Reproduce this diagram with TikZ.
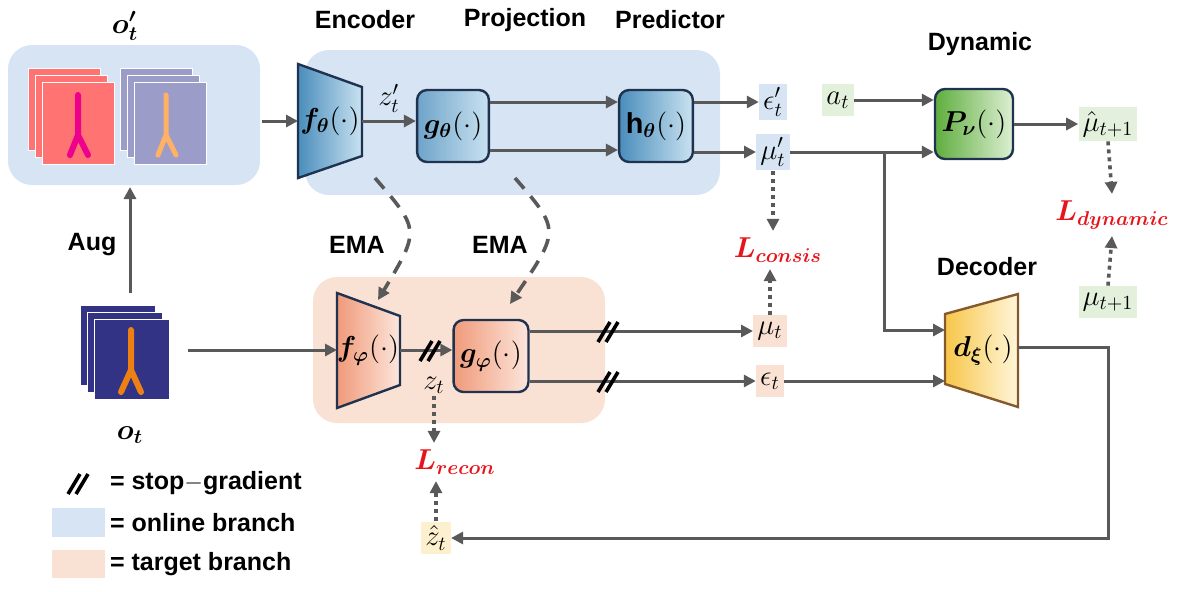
\documentclass[tikz,border=0pt]{standalone}
\usepackage{fontspec}
\setmainfont{Liberation Sans}
\usepackage{amsmath,bm}
\usetikzlibrary{arrows.meta,calc}
\definecolor{onl}{HTML}{D6E4F3}
\definecolor{tgt}{HTML}{F9E1D3}
\definecolor{arr}{HTML}{595959}
\definecolor{bdark}{HTML}{4A8DBC}
\definecolor{blight}{HTML}{C9E2F0}
\definecolor{odark}{HTML}{F09A7A}
\definecolor{olight}{HTML}{FCE6DC}
\definecolor{edge}{HTML}{1F3350}
\definecolor{gdark}{HTML}{5FAE3E}
\definecolor{glight}{HTML}{DDEFD3}
\definecolor{ydark}{HTML}{F7C64A}
\definecolor{ylight}{HTML}{FFF6DA}
\definecolor{lred}{HTML}{E8141B}
\definecolor{gbox}{HTML}{E2F0DC}
\definecolor{ybox}{HTML}{FDF0CF}
\tikzset{
 x=0.5pt,y=-0.5pt,
 a/.style={draw=arr,line width=1.5pt,-{Triangle[length=6pt,width=6pt]}},
 ln/.style={draw=arr,line width=1.5pt},
 dot/.style={draw=arr,line width=1.8pt,dash pattern=on 2pt off 2pt,-{Triangle[length=6pt,width=6pt]}},
 ema/.style={draw=arr,line width=1.8pt,dash pattern=on 7pt off 5pt,-{Triangle[length=6pt,width=6pt]}},
 lab/.style={font=\fontsize{12.5}{14}\selectfont\bfseries},
 var/.style={inner sep=2pt,minimum height=16pt,font=\Large},
 box/.style={draw=edge,line width=1.2pt,rounded corners=5pt,font=\Large},
 loss/.style={text=lred,font=\Large},
 sg/.pic={\draw[black,line width=1.8pt] (-10,11)--(2,-9) (-2,11)--(10,-9);}
}
\begin{document}
\begin{tikzpicture}
\useasboundingbox (0,0) rectangle (1177,591);
% backgrounds
\fill[onl,rounded corners=12pt] (8,45) rectangle (260,185);
\fill[onl,rounded corners=12pt] (305,50) rectangle (720,195);
\fill[tgt,rounded corners=12pt] (313,277) rectangle (605,423);
% online images
\foreach \d in {0,7,14}{\fill[pink!60!red,draw=white,line width=0.5pt] (28+\d,68+\d) rectangle (100+\d,150+\d);}
\draw[magenta,line width=3pt,line cap=round] (78,95)--(78,135) (78,135)--(70,155) (78,135)--(88,155);
\foreach \d in {0,7,14}{\fill[gray!70!blue!60,draw=white,line width=0.5pt] (120+\d,68+\d) rectangle (192+\d,150+\d);}
\draw[orange!60,line width=2.5pt,line cap=round] (166,95)--(166,135) (166,135)--(158,155) (166,135)--(176,155);
\node[font=\Large] (ot2) at (125,26) {$\boldsymbol{o'_t}$};
\coordinate (imgR) at (262,121);
% target image
\foreach \d in {0,7,14}{\fill[blue!40!black!80,draw=white,line width=0.5pt] (80+\d,305+\d) rectangle (155+\d,385+\d);}
\draw[orange!70!brown,line width=3pt,line cap=round] (131,330)--(131,370) (131,370)--(121,392) (131,370)--(141,392);
\node[font=\Large] (ot) at (130,435) {$\boldsymbol{o_t}$};
\coordinate (imgT) at (130,293);
\coordinate (imgB) at (130,187);
\coordinate (imgTR) at (188,350);
\draw[a] (imgT) -- (imgB);
\node[lab] (aug) at (92,245) {Aug};
% headers
\node[lab] (henc) at (365,20) {Encoder};
\node[lab] (hproj) at (525,20) {Projection};
\node[lab] (hpred) at (670,20) {Predictor};
\node[lab] (hdyn) at (980,44) {Dynamic};
\node[lab] (hdec) at (987,267) {Decoder};
\node[lab] (ema1) at (357,245) {EMA};
\node[lab] (ema2) at (500,245) {EMA};
% f_theta
\shade[left color=bdark,right color=blight,draw=edge,line width=1.2pt] (298,64)--(362,87)--(362,156)--(298,178)--cycle;
\node[font=\Large] (ft) at (330,121) {$\boldsymbol{f_\theta}(\cdot)$};
\coordinate (ftR) at (362,121);
\coordinate (ftB) at (375,178);
% g_theta, h_theta
\node[box,left color=bdark!80,right color=blight,minimum width=28pt,minimum height=36pt] (gt) at (453,126) {$\boldsymbol{g_\theta}(\cdot)$};
\node[box,left color=bdark,right color=blight,minimum width=31pt,minimum height=36pt] (ht) at (656,126) {$\mathbf{h}_{\boldsymbol{\theta}}(\cdot)$};
\draw[a] (ftR) -- node[above,font=\Large]{$z'_t$} (gt.west |- ftR);
\draw[a] (gt.east |- 0,102) -- (ht.west |- 0,102);
\draw[a] (gt.east |- 0,150) -- (ht.west |- 0,150);
\node[var,fill=onl] (ept) at (773,102) {$\epsilon'_t$};
\node[var,fill=onl] (mupt) at (773,152) {$\mu'_t$};
\draw[a] (ht.east |- ept) -- (ept.west);
\draw[a] (ht.east |- mupt) -- (mupt.west);
% dynamic
\node[var,fill=gbox] (at) at (838,100) {$a_t$};
\node[box,left color=gdark,right color=glight,minimum width=31pt,minimum height=35pt] (P) at (974,124) {$\boldsymbol{P_\nu}(\cdot)$};
\draw[a] (at.east) -- (P.west |- at);
\draw[a] (mupt.east) -- (P.west |- mupt);
\node[var,fill=gbox] (muh) at (1108,124) {$\hat\mu_{t+1}$};
\draw[a] (P.east) -- (muh.west);
\node[loss] (Ldyn) at (1112,215) {$\boldsymbol{L_{dynamic}}$};
\node[var,fill=gbox] (mut1) at (1108,302) {$\mu_{t+1}$};
\draw[dot] (muh.south) -- (Ldyn.north);
\draw[dot] (mut1.north) -- (Ldyn.south);
% decoder
\shade[left color=ydark,right color=ylight,draw=brown!70!black,line width=1.2pt] (945,314)--(1018,294)--(1018,407)--(945,384)--cycle;
\coordinate (decL) at (945,330);
\coordinate (decL2) at (945,381);
\coordinate (decR) at (1018,347);
\node[font=\Large] (dec) at (983,350) {$\boldsymbol{d_\xi}(\cdot)$};
\coordinate (br) at (884,152);
\draw[a] (br) |- (decL);
% target branch
\shade[left color=odark,right color=olight,draw=edge,line width=1.2pt] (337,293)--(400,316)--(400,385)--(337,408)--cycle;
\node[font=\Large] (fp) at (368,350) {$\boldsymbol{f_\varphi}(\cdot)$};
\coordinate (fpL) at (337,350);
\coordinate (fpR) at (400,350);
\coordinate (fpT) at (378,300);
\draw[a] (imgTR) -- (fpL);
\draw[a] (imgR) -- (298,121);
\node[box,left color=odark,right color=olight,minimum width=29pt,minimum height=36pt] (gp) at (491,356) {$\boldsymbol{g_\varphi}(\cdot)$};
\draw[a] (fpR) -- (gp.west |- fpR);
\pic at (430,350) {sg};
\node[font=\Large,inner sep=1pt] (zt) at (434,385) {$z_t$};
\node[loss] (Lrec) at (455,462) {$\boldsymbol{L_{recon}}$};
\draw[dot] (zt.south) -- (Lrec.north -| zt);
\node[var,fill=tgt] (mut) at (770,331) {$\mu_t$};
\node[var,fill=tgt] (et) at (770,381) {$\epsilon_t$};
\draw[a] (gp.east |- mut) -- (mut.west);
\draw[a] (gp.east |- et) -- (et.west);
\pic at (608,331) {sg};
\pic at (608,381) {sg};
\draw[a] (et.east) -- (decL2);
\node[loss] (Lcon) at (778,250) {$\boldsymbol{L_{consis}}$};
\draw[dot] (mupt.south) -- (Lcon.north -| mupt);
\draw[dot] (mut.north) -- (Lcon.south -| mut);
% recon path
\node[var,fill=ybox] (zh) at (436,538) {$\hat z_t$};
\coordinate (c1) at (1108,347);
\coordinate (c2) at (1108,538);
\draw[a] (decR) -- (c1) -- (c2) -- (zh.east);
\draw[dot] (zh.north) -- (Lrec.south -| zh);
% EMA
\draw[ema] (ftB) .. controls (420,230) .. (fpT);
\coordinate (gtB) at (515,178);
\coordinate (gpT) at (510,304);
\draw[ema] (gtB) .. controls (560,230) .. (gpT);
% legend
\pic at (78,483) {sg};
\node[lab,anchor=west] (l1) at (103,483) {= stop$-$gradient};
\fill[onl] (52,508) rectangle (105,537);
\node[lab,anchor=west] (l2) at (103,523) {= online branch};
\fill[tgt] (52,550) rectangle (105,578);
\node[lab,anchor=west] (l3) at (103,564) {= target branch};
\end{tikzpicture}
\end{document}
